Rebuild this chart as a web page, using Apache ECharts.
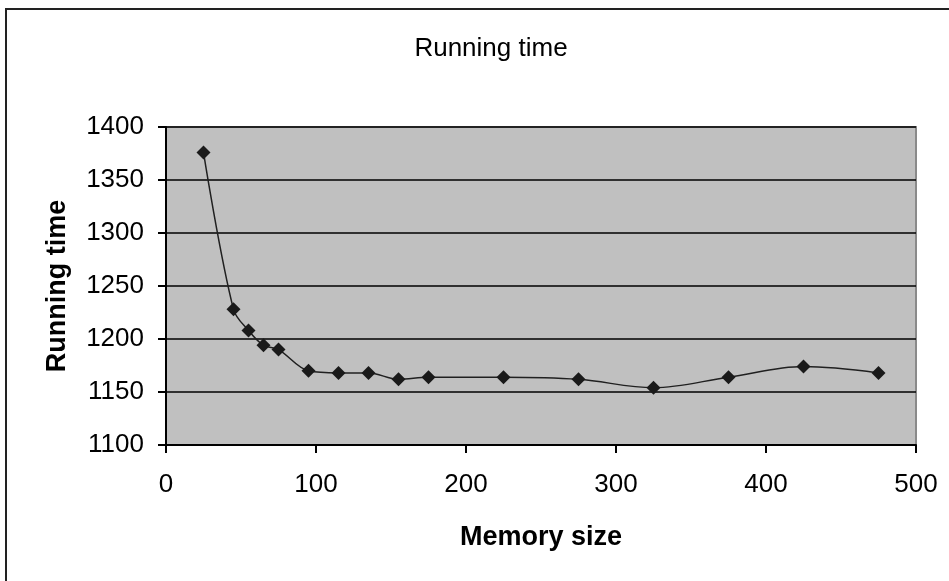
<!DOCTYPE html>
<html>
<head>
<meta charset="utf-8">
<script src="https://cdn.jsdelivr.net/npm/echarts@6/dist/echarts.min.js"></script>
<style>
  html, body { margin: 0; padding: 0; background: #fff; }
  #chart { width: 949px; height: 581px; }
</style>
</head>
<body>
<div id="chart"></div>
<script>
// 数据
var memorySize = [25, 45, 55, 65, 75, 95, 115, 135, 155, 175, 225, 275, 325, 375, 425, 475];
var runningTime = [1376, 1228, 1208, 1194, 1190, 1170, 1168, 1168, 1162, 1164, 1164, 1162, 1154, 1164, 1174, 1168];
var xTicks = [0, 100, 200, 300, 400, 500];
var yTicks = [1100, 1150, 1200, 1250, 1300, 1350, 1400];

var FONT = '"Liberation Sans", Arial, sans-serif';

var chart = echarts.init(document.getElementById('chart'), null, { renderer: 'canvas' });

var option = {
    backgroundColor: '#fff',
    animation: false,
    title: {
        text: 'Running time',
        left: 486,
        top: 31,
        textAlign: 'center',
        textStyle: { fontFamily: FONT, fontSize: 26, fontWeight: 'normal', color: '#000' }
    },
    graphic: [{
        type: 'rect',
        shape: { x: 6, y: 9, width: 1000, height: 1000 },
        style: { fill: 'none', stroke: '#222', lineWidth: 2 },
        silent: true
    }],
    grid: {
        left: 166,
        top: 127,
        right: 33,
        bottom: 136,
        show: true,
        backgroundColor: '#c0c0c0',
        borderColor: '#8a8a8a',
        borderWidth: 2
    },
    xAxis: {
        type: 'value',
        min: xTicks[0],
        max: xTicks[xTicks.length - 1],
        interval: 100,
        name: 'Memory size',
        nameLocation: 'middle',
        nameGap: 79,
        nameTextStyle: { fontFamily: FONT, fontSize: 27, fontWeight: 'bold', color: '#000' },
        axisLine: { show: true, onZero: false, lineStyle: { color: '#000', width: 2 } },
        axisTick: { show: true, inside: false, length: 8, lineStyle: { color: '#000', width: 2 } },
        axisLabel: { margin: 27, fontFamily: FONT, fontSize: 26, color: '#000', formatter: function (v) { return String(v); } },
        splitLine: { show: false }
    },
    yAxis: {
        type: 'value',
        min: yTicks[0],
        max: yTicks[yTicks.length - 1],
        interval: 50,
        name: 'Running time',
        nameLocation: 'middle',
        nameGap: 95,
        nameTextStyle: { fontFamily: FONT, fontSize: 27, fontWeight: 'bold', color: '#000' },
        axisLine: { show: true, lineStyle: { color: '#000', width: 2 } },
        axisTick: { show: true, inside: false, length: 8, lineStyle: { color: '#000', width: 2 } },
        axisLabel: { margin: 22, fontFamily: FONT, fontSize: 26, color: '#000', formatter: function (v) { return String(v); } },
        splitLine: { show: true, lineStyle: { color: '#000', width: 1.5 } }
    },
    series: [{
        name: 'Running time',
        type: 'line',
        data: memorySize.map(function (x, i) { return [x, runningTime[i]]; }),
        smooth: 0.35,
        symbol: 'diamond',
        symbolSize: 14,
        itemStyle: { color: '#1a1a1a' },
        lineStyle: { color: '#202020', width: 1.5 },
        z: 5
    }]
};

chart.setOption(option);
</script>
</body>
</html>
